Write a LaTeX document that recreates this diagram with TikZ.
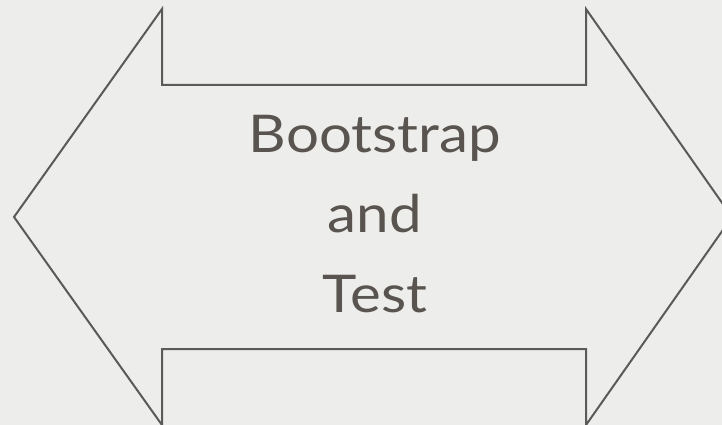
\documentclass[tikz,border=0pt]{standalone}
\usepackage{fontspec}
\setmainfont{Lato}
\newfontfamily\labelfont[FakeStretch=1.12]{Lato}
\definecolor{bg}{HTML}{EDEEEB}
\definecolor{edge}{HTML}{5A5A5A}
\definecolor{ink}{HTML}{59544F}
\tikzset{
  arrowshape/.style={draw=edge, line width=2pt, line join=miter},
  label/.style={text=ink, font=\labelfont\fontsize{52}{80}\selectfont, align=center, inner sep=0pt}
}
\begin{document}
\begin{tikzpicture}[x=1pt,y=-1pt]
\fill[bg] (0,0) rectangle (722,425);
\useasboundingbox (0,0) rectangle (722,425);
\begin{scope}
\clip (0,0) rectangle (722,425);
\coordinate (lt) at (14,217);
\coordinate (rt) at (732,217);
\draw[arrowshape] (lt) -- (162,9) -- (162,85) -- (586,85) -- (586,9) -- (rt)
  -- (586,425) -- (586,349) -- (162,349) -- (162,425) -- cycle;
\end{scope}
\node[label, anchor=base] (txt) at (375,312) {Bootstrap\\and\\Test};
\end{tikzpicture}
\end{document}
